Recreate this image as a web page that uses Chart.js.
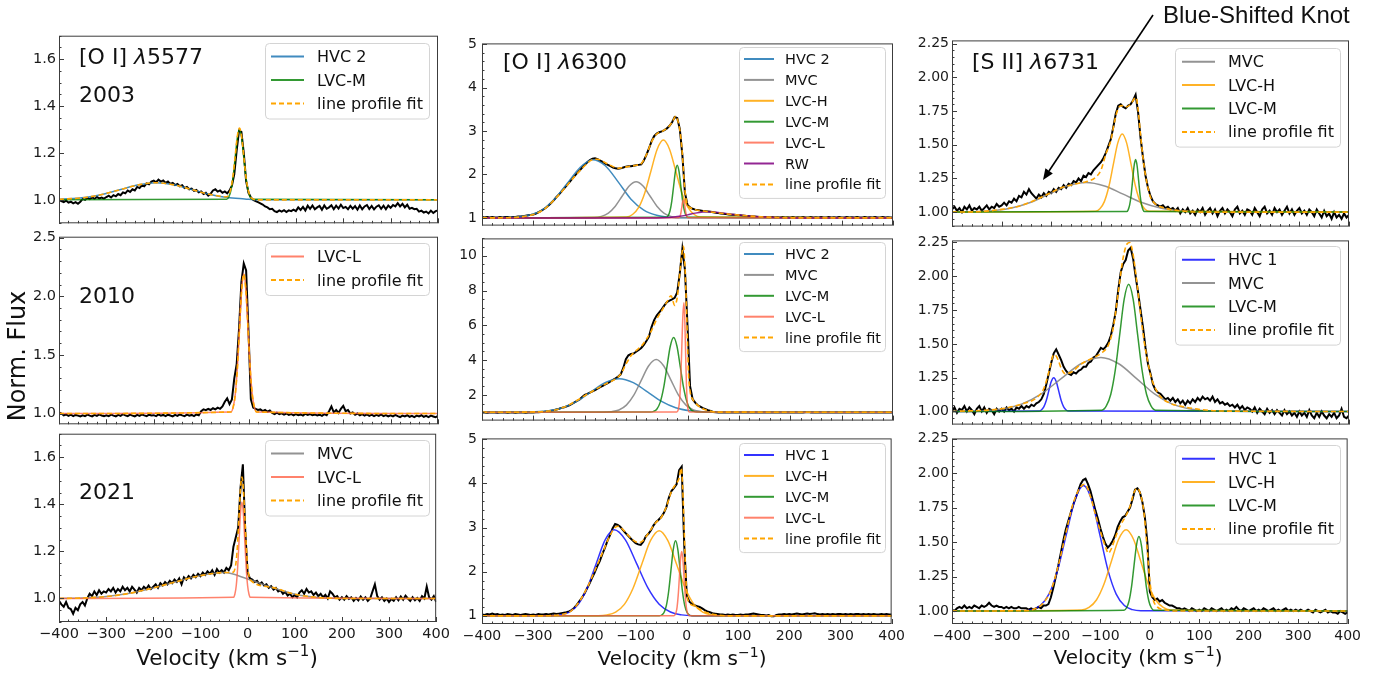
<!DOCTYPE html>
<html>
<head>
<meta charset="utf-8">
<script src="https://cdn.jsdelivr.net/npm/chart.js@4.4.1/dist/chart.umd.min.js"></script>
<style>
  body { margin: 0; background: #fff; }
  #fig { position: relative; width: 1384px; height: 675px; overflow: hidden; background: #fff; }
  #fig canvas { position: absolute; }
  #overlay { position: absolute; left: 0; top: 0; }
</style>
</head>
<body>
<div id="fig"></div>
<script>
// ---------------------------------------------------------------
// Data (velocity in km/s, normalised flux)
// ---------------------------------------------------------------

// sampling grid of the observed spectra (5 km/s)
const velocity = [
  -400,-395,-390,-385,-380,-375,-370,-365,-360,-355,-350,-345,-340,-335,-330,-325,-320,-315,-310,-305,
  -300,-295,-290,-285,-280,-275,-270,-265,-260,-255,-250,-245,-240,-235,-230,-225,-220,-215,-210,-205,
  -200,-195,-190,-185,-180,-175,-170,-165,-160,-155,-150,-145,-140,-135,-130,-125,-120,-115,-110,-105,
  -100,-95,-90,-85,-80,-75,-70,-65,-60,-55,-50,-45,-40,-35,-30,-25,-20,-15,-10,-5,
  0,5,10,15,20,25,30,35,40,45,50,55,60,65,70,75,80,85,90,95,
  100,105,110,115,120,125,130,135,140,145,150,155,160,165,170,175,180,185,190,195,
  200,205,210,215,220,225,230,235,240,245,250,255,260,265,270,275,280,285,290,295,
  300,305,310,315,320,325,330,335,340,345,350,355,360,365,370,375,380,385,390,395,
  400
];

const velocityTicks = [-400, -300, -200, -100, 0, 100, 200, 300, 400];

// [O I] 5577, 2003
const oi5577_2003_obs = [
  1.000,0.995,0.990,0.997,0.988,0.992,0.985,0.990,0.983,0.992,1.004,1.000,1.008,1.003,1.010,1.004,1.012,1.006,1.010,1.005,
  1.012,1.018,1.010,1.020,1.015,1.025,1.020,1.032,1.028,1.040,1.034,1.045,1.040,1.055,1.050,1.062,1.058,1.070,1.066,1.078,
  1.082,1.075,1.086,1.078,1.083,1.072,1.078,1.068,1.072,1.063,1.068,1.058,1.062,1.050,1.055,1.045,1.048,1.038,1.042,1.032,
  1.036,1.025,1.030,1.018,1.026,1.040,1.045,1.035,1.040,1.030,1.036,1.028,1.040,1.060,1.110,1.210,1.295,1.290,1.200,1.080,
  1.030,1.010,1.000,0.995,0.990,0.985,0.980,0.972,0.968,0.960,0.962,0.952,0.948,0.955,0.950,0.956,0.948,0.955,0.952,0.958,
  0.952,0.968,0.957,0.970,0.955,0.975,0.962,0.976,0.960,0.968,0.974,0.958,0.976,0.962,0.968,0.977,0.960,0.975,0.963,0.979,
  0.965,0.970,0.960,0.974,0.962,0.973,0.958,0.976,0.960,0.972,0.978,0.961,0.974,0.959,0.971,0.977,0.962,0.975,0.960,0.976,
  0.966,0.978,0.972,0.986,0.972,0.983,0.968,0.979,0.962,0.966,0.960,0.962,0.950,0.954,0.946,0.950,0.942,0.954,0.944,0.952,
  0.955
];
const oi5577_2003_hvc2 = [[-400,1.002],[-345,1.010],[-307,1.024],[-270,1.044],[-232,1.064],[-195,1.073],[-157,1.064],
  [-120,1.044],[-83,1.024],[-45,1.010],[-8,1.004],[20,1.000],[400,1.000]];
const oi5577_2003_lvcm = [[-400,1.0],[-46,1.003],[-41.5,1.013],[-37,1.041],[-32.5,1.097],[-28,1.182],[-23.5,1.265],[-19,1.300],
  [-14.5,1.265],[-10,1.182],[-5.5,1.097],[-1,1.041],[3.5,1.013],[8,1.003],[400,1.0]];
const oi5577_2003_fit = [[-400,1.002],[-345,1.010],[-307,1.024],[-270,1.044],[-232,1.064],[-195,1.073],[-157,1.064],
  [-120,1.044],[-83,1.024],[-46,1.013],[-41.5,1.023],[-37,1.050],[-32.5,1.105],[-28,1.190],[-23.5,1.272],[-19,1.306],
  [-14.5,1.270],[-10,1.186],[-5.5,1.100],[-1,1.045],[3.5,1.016],[8,1.005],[20,1.0],[400,1.0]];

// [O I] 5577, 2010
const oi5577_2010_obs = [
  1.010,1.000,0.985,0.992,0.980,0.990,0.978,0.988,0.982,0.975,0.985,0.978,0.990,0.982,0.975,0.988,0.980,0.992,0.983,0.978,
  0.985,0.978,0.990,0.982,0.976,0.988,0.980,0.994,0.984,0.978,0.990,0.982,0.976,0.988,0.980,0.992,0.984,0.978,0.990,0.983,
  0.986,0.978,0.992,0.982,0.988,0.978,0.990,0.983,0.976,0.988,0.980,0.992,0.984,0.978,0.990,0.982,0.988,0.978,0.992,0.985,
  1.020,1.035,1.028,1.040,1.030,1.045,1.035,1.050,1.040,1.060,1.100,1.130,1.080,1.120,1.300,1.420,1.720,2.120,2.280,2.220,
  1.700,1.120,1.050,1.040,1.030,1.035,1.020,1.030,1.015,1.025,1.005,0.995,1.008,0.995,1.002,0.990,1.000,0.988,0.996,0.985,
  0.995,0.985,0.992,0.982,0.998,0.988,0.995,0.985,0.992,0.983,0.990,0.980,0.995,0.985,1.020,1.060,1.010,1.030,1.005,1.040,
  1.065,1.020,1.030,1.000,1.010,0.990,1.000,0.985,0.995,0.982,0.992,0.980,0.990,0.978,0.988,0.980,0.992,0.978,0.986,0.975,
  0.985,0.975,0.988,0.978,0.970,0.982,0.975,0.985,0.972,0.980,0.970,0.982,0.975,0.985,0.972,0.980,0.970,0.982,0.975,0.968,
  0.980
];
const oi5577_2010_lvcl = [[-400,1.0],[-37,1.013],[-32.5,1.052],[-28,1.161],[-23.5,1.387],[-19,1.722],[-14.5,2.050],[-10,2.190],
  [-5.5,2.050],[-1,1.722],[3.5,1.387],[8,1.161],[12.5,1.052],[17,1.013],[400,1.0]];
const oi5577_2010_fit = [[-400,1.0],[-37,1.013],[-32.5,1.052],[-28,1.161],[-23.5,1.387],[-19,1.722],[-14.5,2.050],[-10,2.190],
  [-5.5,2.050],[-1,1.722],[3.5,1.387],[8,1.161],[12.5,1.052],[17,1.013],[400,1.0]];

// [O I] 5577, 2021
const oi5577_2021_obs = [
  0.990,0.975,0.965,0.985,0.960,0.955,0.935,0.960,0.950,0.975,0.985,0.970,1.000,1.020,1.010,1.030,1.015,1.035,1.020,1.030,
  1.025,1.040,1.030,1.045,1.025,1.040,1.030,1.050,1.035,1.045,1.030,1.050,1.038,1.025,1.045,1.035,1.050,1.040,1.055,1.040,
  1.050,1.060,1.045,1.065,1.055,1.070,1.060,1.075,1.065,1.080,1.070,1.085,1.060,1.090,1.080,1.095,1.085,1.100,1.090,1.105,
  1.095,1.110,1.100,1.115,1.105,1.120,1.100,1.125,1.110,1.120,1.110,1.130,1.120,1.140,1.220,1.260,1.300,1.470,1.570,1.290,
  1.110,1.085,1.080,1.070,1.075,1.060,1.068,1.055,1.060,1.045,1.052,1.038,1.045,1.030,1.035,1.020,1.028,1.012,1.020,1.005,
  1.015,1.005,1.025,1.035,1.020,1.040,1.025,1.030,1.015,1.025,1.010,1.020,1.005,1.015,1.000,1.030,1.020,1.005,1.010,0.995,
  1.005,0.995,1.010,0.998,1.005,0.990,1.002,0.992,1.008,0.995,1.005,0.990,1.000,1.030,1.060,1.010,0.995,1.005,0.990,1.000,
  0.985,0.998,0.990,1.005,0.992,1.008,0.995,1.012,1.000,0.990,1.005,0.992,1.002,0.990,1.010,1.000,1.050,1.005,0.995,1.010,
  0.985
];
const oi5577_2021_mvc = [[-400,1.0],[-350,1.002],[-300,1.008],[-250,1.022],[-200,1.045],[-150,1.072],[-100,1.097],[-50,1.110],
  [0,1.083],[50,1.048],[100,1.018],[150,1.004],[200,1.0],[400,1.0]];
const oi5577_2021_lvcl = [[-400,1.0],[-30,1.005],[-27,1.018],[-24,1.055],[-21,1.133],[-18,1.249],[-15,1.362],[-12,1.410],
  [-9,1.362],[-6,1.249],[-3,1.133],[0,1.055],[3,1.018],[6,1.005],[400,1.0]];
const oi5577_2021_fit = [[-400,1.0],[-350,1.002],[-300,1.008],[-250,1.022],[-200,1.045],[-150,1.072],[-100,1.097],[-50,1.110],
  [-30,1.112],[-27,1.125],[-24,1.162],[-21,1.240],[-18,1.356],[-15,1.469],[-12,1.516],[-9,1.467],[-6,1.352],[-3,1.234],
  [0,1.138],[3,1.096],[6,1.078],[50,1.048],[100,1.018],[150,1.004],[200,1.0],[400,1.0]];

// [O I] 6300, 2003
const oi6300_2003_obs = [
  1.02,1.01,1.02,1.01,1.02,1.01,1.01,1.02,1.01,1.02,1.02,1.01,1.02,1.02,1.03,1.03,1.04,1.05,1.06,1.07,
  1.08,1.10,1.13,1.16,1.20,1.24,1.29,1.35,1.41,1.48,1.54,1.61,1.68,1.75,1.82,1.89,1.96,2.03,2.09,2.16,
  2.22,2.28,2.33,2.36,2.37,2.35,2.32,2.29,2.25,2.22,2.19,2.16,2.14,2.13,2.14,2.16,2.18,2.19,2.19,2.20,
  2.21,2.22,2.23,2.32,2.45,2.60,2.76,2.88,2.94,2.97,2.99,3.02,3.06,3.12,3.20,3.32,3.30,3.05,2.45,1.58,
  1.30,1.24,1.21,1.19,1.18,1.17,1.16,1.155,1.15,1.14,1.13,1.12,1.11,1.10,1.095,1.09,1.08,1.075,1.07,1.065,
  1.06,1.055,1.05,1.045,1.04,1.035,1.03,1.025,1.02,1.02,1.015,1.02,1.01,1.02,1.01,1.015,1.01,1.02,1.01,1.015,
  1.01,1.02,1.01,1.015,1.01,1.02,1.01,1.01,1.02,1.01,1.015,1.01,1.02,1.01,1.01,1.02,1.01,1.015,1.01,1.02,
  1.01,1.01,1.02,1.01,1.015,1.01,1.02,1.01,1.01,1.02,1.01,1.015,1.01,1.02,1.01,1.01,1.02,1.01,1.015,1.01,
  1.01
];
const oi6300_2003_hvc2 = [[-400,1.0],[-335,1.014],[-310,1.06],[-285,1.17],[-260,1.42],[-235,1.78],[-210,2.15],[-185,2.34],
  [-160,2.20],[-135,1.83],[-110,1.43],[-85,1.18],[-60,1.06],[-35,1.015],[-10,1.003],[400,1.0]];
const oi6300_2003_mvc = [[-400,1.0],[-181,1.009],[-167.5,1.036],[-154,1.112],[-140.5,1.27],[-127,1.503],[-113.5,1.732],[-100,1.83],
  [-86.5,1.732],[-73,1.503],[-59.5,1.27],[-46,1.112],[-32.5,1.036],[-19,1.009],[400,1.0]];
const oi6300_2003_lvch = [[-400,1.0],[-119,1.02],[-107,1.079],[-95,1.242],[-83,1.581],[-71,2.086],[-59,2.58],[-47,2.79],
  [-35,2.58],[-23,2.086],[-11,1.581],[1,1.242],[13,1.079],[25,1.02],[400,1.0]];
const oi6300_2003_lvcm = [[-400,1.0],[-41,1.013],[-37.5,1.053],[-34,1.164],[-30.5,1.393],[-27,1.734],[-23.5,2.068],[-20,2.21],
  [-16.5,2.068],[-13,1.734],[-9.5,1.393],[-6,1.164],[-2.5,1.053],[1,1.013],[400,1.0]];
const oi6300_2003_lvcl = [[-400,1.0],[-17,1.005],[-15.5,1.018],[-14,1.057],[-12.5,1.136],[-11,1.255],[-9.5,1.371],[-8,1.42],
  [-6.5,1.371],[-5,1.255],[-3.5,1.136],[-2,1.057],[-0.5,1.018],[1,1.005],[400,1.0]];
const oi6300_2003_rw = [[-400,1.0],[-60,1.0],[-35,1.01],[-15,1.04],[0,1.07],[15,1.11],[30,1.135],[40,1.14],[55,1.13],
  [70,1.11],[90,1.08],[110,1.055],[130,1.035],[150,1.02],[170,1.008],[200,1.0],[400,1.0]];
const oi6300_2003_fit = [[-400,1.0],[-350,1.005],[-320,1.03],[-300,1.08],[-280,1.19],[-260,1.41],[-240,1.67],[-220,1.95],
  [-200,2.2],[-185,2.34],[-175,2.35],[-160,2.27],[-145,2.18],[-135,2.14],[-125,2.16],[-110,2.19],[-100,2.21],[-90,2.25],
  [-80,2.45],[-70,2.75],[-60,2.93],[-50,2.99],[-40,3.06],[-30,3.2],[-23,3.34],[-18,3.2],[-13,2.85],[-9,2.3],[-6,1.75],
  [-3,1.45],[0,1.3],[5,1.24],[15,1.19],[30,1.16],[50,1.13],[70,1.10],[90,1.075],[110,1.055],[130,1.035],[150,1.02],
  [170,1.008],[200,1.0],[400,1.0]];

// [O I] 6300, 2010
const oi6300_2010_obs = [
  0.98,0.99,0.97,0.98,0.99,0.98,0.97,0.99,0.98,0.98,0.97,0.99,0.98,0.97,0.98,0.99,0.98,0.97,0.99,0.98,
  0.99,1.00,1.00,1.01,1.02,1.04,1.06,1.09,1.12,1.16,1.20,1.25,1.29,1.34,1.40,1.48,1.57,1.65,1.73,1.88,
  2.00,2.06,2.13,2.20,2.28,2.36,2.44,2.52,2.60,2.68,2.77,2.86,2.95,3.05,3.18,3.55,4.05,4.28,4.35,4.38,
  4.48,4.58,4.70,4.88,5.10,5.35,5.90,6.30,6.56,6.75,6.93,7.15,7.34,7.42,7.49,7.58,7.90,9.00,10.40,9.20,
  6.00,2.50,1.75,1.55,1.40,1.32,1.24,1.18,1.12,1.07,1.02,1.00,0.99,1.00,0.99,0.98,0.99,1.00,0.99,0.98,
  0.99,0.98,1.00,0.99,0.98,0.99,1.00,0.99,0.98,0.99,1.00,0.99,0.98,0.99,1.00,0.99,0.98,0.99,1.00,0.99,
  0.98,0.99,1.00,0.99,0.98,0.99,1.00,1.01,0.99,0.98,0.99,1.00,0.99,0.98,0.99,1.00,0.99,0.98,0.99,1.00,
  0.99,0.98,0.99,1.00,0.99,0.98,0.99,1.00,0.99,0.98,0.99,1.00,0.99,0.98,0.99,1.00,0.99,0.98,0.99,0.99,
  0.99
];
const oi6300_2010_hvc2 = [[-400,1.0],[-325.5,1.004],[-298,1.021],[-270.5,1.085],[-243,1.261],[-215.5,1.627],[-188,2.171],
  [-160.5,2.703],[-133,2.93],[-105.5,2.703],[-78,2.171],[-50.5,1.627],[-23,1.261],[4.5,1.085],[32,1.021],[59.5,1.004],[400,1.0]];
const oi6300_2010_mvc = [[-400,1.0],[-162.5,1.007],[-148,1.034],[-133.5,1.133],[-119,1.41],[-104.5,1.984],[-90,2.838],
  [-75.5,3.674],[-61,4.03],[-46.5,3.674],[-32,2.838],[-17.5,1.984],[-3,1.41],[11.5,1.133],[26,1.034],[40.5,1.007],[400,1.0]];
const oi6300_2010_lvcm = [[-400,1.0],[-72.5,1.01],[-66,1.048],[-59.5,1.189],[-53,1.582],[-46.5,2.396],[-40,3.608],
  [-33.5,4.795],[-27,5.3],[-20.5,4.795],[-14,3.608],[-7.5,2.396],[-1,1.582],[5.5,1.189],[12,1.048],[18.5,1.01],[400,1.0]];
const oi6300_2010_lvcl = [[-400,1.0],[-21,1.014],[-19,1.07],[-17,1.277],[-15,1.852],[-13,3.05],[-11,4.82],[-9,6.56],[-7,7.3],
  [-5.5,6.56],[-4,4.82],[-2.5,3.05],[-1,1.852],[0.5,1.277],[2,1.07],[3.5,1.014],[400,1.0]];
const oi6300_2010_fit = [[-400,1.0],[-320,1.005],[-300,1.02],[-280,1.05],[-260,1.12],[-240,1.3],[-220,1.6],[-200,1.95],
  [-180,2.3],[-160,2.62],[-140,2.92],[-130,3.2],[-120,3.75],[-110,4.25],[-100,4.55],[-90,4.8],[-80,5.2],[-70,5.7],
  [-60,6.35],[-50,6.85],[-40,7.35],[-32,7.7],[-25,7.15],[-20,7.6],[-15,9.0],[-10,10.3],[-8,10.55],[-5,9.4],[-2,7.0],
  [0,5.0],[2,3.2],[5,2.2],[10,1.75],[20,1.4],[30,1.2],[40,1.1],[50,1.03],[60,1.01],[400,1.0]];

// [O I] 6300, 2021
const oi6300_2021_obs = [
  1.03,1.02,1.04,1.03,1.05,1.03,1.04,1.02,1.03,1.02,1.04,1.03,1.02,1.04,1.03,1.02,1.03,1.04,1.03,1.02,
  1.03,1.02,1.04,1.03,1.03,1.04,1.03,1.04,1.05,1.04,1.05,1.06,1.07,1.08,1.10,1.13,1.18,1.25,1.33,1.41,
  1.50,1.62,1.73,1.86,1.98,2.12,2.24,2.40,2.54,2.70,2.83,2.98,3.08,3.06,3.02,2.95,2.88,2.82,2.76,2.70,
  2.65,2.62,2.61,2.68,2.80,2.86,2.94,3.05,3.13,3.18,3.24,3.33,3.46,3.68,3.83,3.90,3.98,4.30,4.38,2.60,
  1.45,1.32,1.27,1.24,1.22,1.20,1.17,1.13,1.10,1.08,1.06,1.05,1.04,1.03,1.03,1.02,1.03,1.02,1.03,1.02,
  1.02,1.03,1.02,1.03,1.03,1.04,1.05,1.04,1.03,1.02,1.02,1.01,1.02,0.99,0.99,1.02,1.03,1.03,1.04,1.03,
  1.04,1.03,1.04,1.05,1.04,1.03,1.04,1.05,1.04,1.05,1.06,1.04,1.03,1.04,1.03,1.04,1.03,1.04,1.03,1.04,
  1.04,1.03,1.04,1.03,1.04,1.03,1.04,1.04,1.03,1.04,1.03,1.04,1.03,1.04,1.03,1.03,1.04,1.03,1.04,1.03,
  1.03
];
const oi6300_2021_hvc1 = [[-400,1.0],[-264.5,1.004],[-247,1.022],[-229.5,1.086],[-212,1.264],[-194.5,1.633],[-177,2.183],
  [-159.5,2.721],[-142,2.95],[-120,2.721],[-98,2.183],[-76,1.633],[-54,1.264],[-32,1.086],[-10,1.022],[12,1.004],[400,1.0]];
const oi6300_2021_lvch = [[-400,1.0],[-173,1.004],[-156,1.021],[-139,1.085],[-122,1.261],[-105,1.627],[-88,2.171],[-71,2.703],
  [-54,2.93],[-37,2.703],[-20,2.171],[-3,1.627],[14,1.261],[31,1.085],[48,1.021],[65,1.004],[400,1.0]];
const oi6300_2021_lvcm = [[-400,1.0],[-53.5,1.004],[-49,1.019],[-44.5,1.075],[-40,1.23],[-35.5,1.552],[-31,2.031],[-26.5,2.50],
  [-22,2.70],[-17.5,2.50],[-13,2.031],[-8.5,1.552],[-4,1.23],[0.5,1.075],[5,1.019],[9.5,1.004],[400,1.0]];
const oi6300_2021_lvcl = [[-400,1.0],[-25.75,1.003],[-23.5,1.016],[-21.25,1.064],[-19,1.198],[-16.75,1.474],[-14.5,1.886],
  [-12.25,2.288],[-10,2.46],[-7.75,2.288],[-5.5,1.886],[-3.25,1.474],[-1,1.198],[1.25,1.064],[3.5,1.016],[5.75,1.003],[400,1.0]];
const oi6300_2021_fit = [[-400,1.0],[-280,1.0],[-260,1.01],[-240,1.04],[-225,1.12],[-210,1.32],[-195,1.63],[-180,2.02],
  [-165,2.42],[-150,2.82],[-142,2.98],[-135,3.03],[-125,2.96],[-115,2.83],[-105,2.72],[-95,2.66],[-88,2.68],[-80,2.79],
  [-70,2.96],[-60,3.12],[-50,3.23],[-40,3.47],[-30,3.82],[-22,3.98],[-15,4.12],[-11,4.35],[-8,3.9],[-5,2.9],[-2,1.9],
  [0,1.5],[5,1.3],[15,1.22],[25,1.15],[35,1.09],[45,1.05],[60,1.02],[80,1.0],[400,1.0]];

// [S II] 6731, 2003
const sii6731_2003_obs = [
  1.02,1.04,1.01,1.03,1.00,1.04,1.02,1.05,1.01,1.03,1.02,1.04,1.01,1.03,1.05,1.02,1.04,1.03,1.06,1.04,
  1.05,1.07,1.05,1.08,1.07,1.10,1.08,1.12,1.11,1.15,1.13,1.17,1.14,1.12,1.10,1.13,1.11,1.14,1.12,1.15,
  1.14,1.17,1.15,1.18,1.17,1.20,1.18,1.21,1.20,1.23,1.22,1.25,1.23,1.27,1.26,1.29,1.28,1.31,1.33,1.35,
  1.37,1.40,1.44,1.49,1.54,1.63,1.73,1.79,1.80,1.78,1.77,1.79,1.80,1.83,1.87,1.74,1.55,1.40,1.27,1.18,
  1.12,1.08,1.06,1.05,1.04,1.05,1.03,1.04,1.02,1.03,1.01,1.03,0.99,1.02,1.00,1.03,0.99,1.01,0.98,1.02,
  1.00,1.03,0.98,1.01,1.03,0.99,1.02,0.97,1.01,1.03,0.99,1.02,1.00,0.97,1.02,1.04,0.99,1.01,0.98,1.02,
  1.01,0.98,1.03,1.00,0.97,1.02,1.04,0.99,1.01,0.98,1.03,1.00,1.02,0.98,1.01,1.04,0.99,1.02,0.98,1.01,
  1.03,0.99,1.01,0.98,1.02,1.00,0.97,1.02,0.99,0.96,1.01,0.97,0.99,0.95,1.00,0.96,0.98,0.95,0.99,0.96,
  0.98
];
const sii6731_2003_mvc = [[-400,1.0],[-355,1.002],[-317.5,1.010],[-280,1.030],[-242.5,1.071],[-205,1.133],[-167.5,1.194],
  [-130,1.22],[-92.5,1.194],[-55,1.133],[-17.5,1.071],[20,1.030],[57.5,1.010],[95,1.002],[400,1.0]];
const sii6731_2003_lvch = [[-400,1.0],[-111,1.006],[-102,1.025],[-93,1.078],[-84,1.188],[-75,1.352],[-66,1.512],[-57,1.58],
  [-48,1.512],[-39,1.352],[-30,1.188],[-21,1.078],[-12,1.025],[-3,1.006],[400,1.0]];
const sii6731_2003_lvcm = [[-400,1.0],[-48,1.004],[-45,1.017],[-42,1.053],[-39,1.127],[-36,1.237],[-33,1.344],[-30,1.39],
  [-27,1.344],[-24,1.237],[-21,1.127],[-18,1.053],[-15,1.017],[-12,1.004],[400,1.0]];
const sii6731_2003_fit = [[-400,1.0],[-350,1.003],[-300,1.02],[-260,1.05],[-220,1.11],[-180,1.18],[-150,1.21],[-130,1.225],
  [-110,1.26],[-100,1.31],[-90,1.43],[-80,1.53],[-72,1.68],[-65,1.77],[-58,1.79],[-50,1.78],[-40,1.80],[-33,1.84],
  [-29,1.85],[-25,1.76],[-20,1.57],[-15,1.40],[-10,1.27],[-5,1.18],[0,1.11],[10,1.06],[20,1.04],[40,1.02],[60,1.01],
  [100,1.0],[400,1.0]];

// [S II] 6731, 2010
const sii6731_2010_obs = [
  1.00,1.03,0.99,1.02,1.01,1.04,1.00,1.03,1.01,0.98,1.02,1.04,1.00,1.03,0.99,1.02,1.01,0.98,1.02,1.00,
  1.02,1.00,1.03,1.01,1.02,1.00,1.03,1.02,1.04,1.02,1.04,1.03,1.05,1.04,1.06,1.07,1.09,1.13,1.20,1.28,
  1.36,1.43,1.46,1.42,1.38,1.33,1.30,1.28,1.27,1.29,1.28,1.30,1.31,1.33,1.33,1.36,1.37,1.40,1.41,1.44,
  1.47,1.46,1.48,1.51,1.56,1.64,1.74,1.90,2.03,2.09,2.12,2.19,2.21,2.13,2.00,1.88,1.75,1.62,1.47,1.35,
  1.28,1.20,1.16,1.14,1.13,1.11,1.09,1.10,1.08,1.10,1.07,1.09,1.06,1.08,1.05,1.08,1.06,1.09,1.07,1.10,
  1.08,1.11,1.09,1.10,1.08,1.11,1.07,1.09,1.06,1.07,1.05,1.06,1.04,1.05,1.03,1.05,1.02,1.04,1.01,1.03,
  1.02,1.00,1.03,0.99,1.02,1.00,0.98,1.02,0.99,1.01,0.98,1.01,0.99,0.97,1.01,0.98,1.00,0.97,0.99,0.96,
  1.00,0.97,0.99,0.96,1.01,0.97,0.95,0.99,0.96,1.00,0.97,0.95,0.98,0.96,0.99,0.95,0.97,1.02,0.96,0.95,
  0.97
];
const sii6731_2010_hvc1 = [[-400,1.0],[-225,1.003],[-220,1.011],[-215,1.034],[-210,1.081],[-205,1.152],[-200,1.221],[-195,1.25],
  [-190,1.221],[-185,1.152],[-180,1.081],[-175,1.034],[-170,1.011],[-165,1.003],[400,1.0]];
const sii6731_2010_mvc = [[-400,1.0],[-340,1.004],[-300,1.018],[-260,1.054],[-220,1.130],[-180,1.243],[-140,1.353],[-100,1.40],
  [-64,1.353],[-28,1.243],[8,1.130],[44,1.054],[80,1.018],[116,1.004],[400,1.0]];
const sii6731_2010_lvcm = [[-400,1.0],[-98,1.01],[-89,1.041],[-80,1.127],[-71,1.305],[-62,1.570],[-53,1.830],[-44,1.94],
  [-35,1.830],[-26,1.570],[-17,1.305],[-8,1.127],[1,1.041],[10,1.01],[400,1.0]];
const sii6731_2010_fit = [[-400,1.0],[-300,1.02],[-260,1.055],[-230,1.10],[-215,1.17],[-205,1.29],[-200,1.37],[-195,1.42],
  [-190,1.41],[-185,1.37],[-180,1.32],[-172,1.28],[-160,1.29],[-140,1.35],[-120,1.39],[-100,1.43],[-85,1.49],[-75,1.62],
  [-65,1.88],[-55,2.14],[-47,2.24],[-42,2.25],[-36,2.18],[-28,1.97],[-20,1.72],[-12,1.5],[-5,1.36],[0,1.27],[10,1.17],
  [20,1.11],[40,1.06],[60,1.04],[100,1.015],[150,1.003],[400,1.0]];

// [S II] 6731, 2021
const sii6731_2021_obs = [
  1.01,1.00,1.02,1.03,1.02,1.04,1.02,1.03,1.02,1.04,1.03,1.02,1.04,1.03,1.04,1.06,1.04,1.03,1.04,1.03,
  1.03,1.02,1.03,1.02,1.03,1.02,1.02,1.03,1.02,1.02,1.02,1.01,1.02,1.01,1.02,1.03,1.02,1.04,1.04,1.05,
  1.10,1.17,1.25,1.33,1.42,1.51,1.59,1.65,1.71,1.77,1.82,1.87,1.92,1.95,1.96,1.92,1.87,1.80,1.73,1.67,
  1.60,1.54,1.49,1.46,1.48,1.51,1.55,1.61,1.65,1.68,1.69,1.72,1.75,1.81,1.88,1.89,1.86,1.79,1.68,1.50,
  1.14,1.10,1.08,1.09,1.07,1.08,1.06,1.05,1.04,1.04,1.03,1.02,1.02,1.01,1.02,1.01,1.00,1.02,1.01,1.00,
  1.01,1.00,1.02,1.01,1.00,1.02,1.01,1.00,1.01,1.02,1.00,1.01,1.00,1.02,1.01,1.03,1.01,1.00,1.02,1.01,
  1.00,1.01,1.02,1.00,1.01,1.00,1.02,1.01,1.00,1.01,1.02,1.00,1.01,1.00,1.01,1.02,1.00,1.01,1.00,1.01,
  1.00,1.01,1.00,1.00,1.01,1.00,0.99,1.01,1.00,0.99,1.00,1.01,0.99,1.00,0.99,0.99,0.98,1.00,0.99,0.98,
  0.99
];
const sii6731_2021_hvc1 = [[-400,1.0],[-256.5,1.002],[-239,1.010],[-221.5,1.040],[-204,1.123],[-186.5,1.295],[-169,1.552],
  [-151.5,1.803],[-134,1.91],[-117.5,1.803],[-101,1.552],[-84.5,1.295],[-68,1.123],[-51.5,1.040],[-35,1.010],[-18.5,1.002],[400,1.0]];
const sii6731_2021_lvch = [[-400,1.0],[-138,1.007],[-123,1.026],[-108,1.080],[-93,1.192],[-78,1.358],[-63,1.521],[-48,1.59],
  [-33,1.521],[-18,1.358],[-3,1.192],[12,1.080],[27,1.026],[42,1.007],[400,1.0]];
const sii6731_2021_lvcm = [[-400,1.0],[-52,1.006],[-47,1.024],[-42,1.073],[-37,1.175],[-32,1.328],[-27,1.477],[-22,1.54],
  [-17,1.477],[-12,1.328],[-7,1.175],[-2,1.073],[3,1.024],[8,1.006],[400,1.0]];
const sii6731_2021_fit = [[-400,1.0],[-250,1.003],[-230,1.02],[-215,1.06],[-200,1.15],[-185,1.33],[-170,1.56],[-155,1.78],
  [-140,1.90],[-132,1.92],[-120,1.83],[-110,1.70],[-100,1.58],[-90,1.47],[-84,1.42],[-78,1.45],[-70,1.53],[-60,1.62],
  [-50,1.68],[-40,1.76],[-32,1.86],[-26,1.89],[-20,1.86],[-12,1.72],[-6,1.48],[0,1.22],[6,1.09],[15,1.03],[30,1.01],
  [50,1.0],[400,1.0]];

// y tick labels
const yTicksSmall = [1.0, 1.2, 1.4, 1.6];
const yTicksMid = [1.0, 1.5, 2.0, 2.5];
const yTicks6300 = [1, 2, 3, 4, 5];
const yTicks6300b = [2, 4, 6, 8, 10];
const yTicks6731 = [1.00, 1.25, 1.50, 1.75, 2.00, 2.25];

// ---------------------------------------------------------------
// Styles and layout
// ---------------------------------------------------------------
const COLORS = {
  'HVC 1': 'rgba(0,0,255,0.8)',
  'HVC 2': 'rgba(31,119,180,0.85)',
  'MVC': 'rgba(128,128,128,0.85)',
  'LVC-H': 'rgba(255,165,0,0.85)',
  'LVC-M': 'rgba(0,128,0,0.8)',
  'LVC-L': 'rgba(255,99,71,0.8)',
  'RW': 'rgba(128,0,128,0.85)',
  fit: '#FFA500'
};

const LEGEND_COLS = [
  { x: 265, w: 164, lineX: 271, lineLen: 33, textX: 317, rowH: 23.5, first: 13.5, last: 15, font: 16 },
  { x: 739, w: 146, lineX: 744, lineLen: 30, textX: 785, rowH: 20.9, first: 12, last: 13.5, font: 14.5 },
  { x: 1175, w: 165, lineX: 1182, lineLen: 33, textX: 1228, rowH: 23.4, first: 13.7, last: 14.7, font: 16 }
];

const PANELS = [
  { obs: oi5577_2003_obs, comps: [['HVC 2', oi5577_2003_hvc2], ['LVC-M', oi5577_2003_lvcm]], fit: oi5577_2003_fit,
    yMin: 0.9, yMax: 1.7, yTicks: yTicksSmall, yMinor: 0.05, dec: 1,
    rect: [59, 34, 438, 225], col: 0, legendTop: 43, showX: false },
  { obs: oi5577_2010_obs, comps: [['LVC-L', oi5577_2010_lvcl]], fit: oi5577_2010_fit,
    yMin: 0.908, yMax: 2.508, yTicks: yTicksMid, yMinor: 0.1, dec: 1,
    rect: [59, 235, 438, 426], col: 0, legendTop: 243, showX: false },
  { obs: oi5577_2021_obs, comps: [['MVC', oi5577_2021_mvc], ['LVC-L', oi5577_2021_lvcl]], fit: oi5577_2021_fit,
    yMin: 0.9, yMax: 1.7, yTicks: yTicksSmall, yMinor: 0.05, dec: 1,
    rect: [59, 432, 438, 622], col: 0, legendTop: 440, showX: true },
  { obs: oi6300_2003_obs,
    comps: [['HVC 2', oi6300_2003_hvc2], ['MVC', oi6300_2003_mvc], ['LVC-H', oi6300_2003_lvch],
            ['LVC-M', oi6300_2003_lvcm], ['LVC-L', oi6300_2003_lvcl], ['RW', oi6300_2003_rw]],
    fit: oi6300_2003_fit,
    yMin: 0.823, yMax: 5.015, yTicks: yTicks6300, yMinor: 0.2, dec: 0,
    rect: [482, 40, 893, 229], col: 1, legendTop: 47, showX: false },
  { obs: oi6300_2010_obs,
    comps: [['HVC 2', oi6300_2010_hvc2], ['MVC', oi6300_2010_mvc], ['LVC-M', oi6300_2010_lvcm], ['LVC-L', oi6300_2010_lvcl]],
    fit: oi6300_2010_fit,
    yMin: 0.52, yMax: 11.0, yTicks: yTicks6300b, yMinor: 0.5, dec: 0,
    rect: [482, 235, 893, 424], col: 1, legendTop: 242, showX: false },
  { obs: oi6300_2021_obs,
    comps: [['HVC 1', oi6300_2021_hvc1], ['LVC-H', oi6300_2021_lvch], ['LVC-M', oi6300_2021_lvcm], ['LVC-L', oi6300_2021_lvcl]],
    fit: oi6300_2021_fit,
    yMin: 0.815, yMax: 5.022, yTicks: yTicks6300, yMinor: 0.2, dec: 0,
    rect: [482, 435, 893, 624], col: 1, legendTop: 443, showX: true },
  { obs: sii6731_2003_obs, comps: [['MVC', sii6731_2003_mvc], ['LVC-H', sii6731_2003_lvch], ['LVC-M', sii6731_2003_lvcm]],
    fit: sii6731_2003_fit,
    yMin: 0.8925, yMax: 2.274, yTicks: yTicks6731, yMinor: 0.05, dec: 2,
    rect: [952, 39, 1349, 228], col: 2, legendTop: 48, showX: false },
  { obs: sii6731_2010_obs, comps: [['HVC 1', sii6731_2010_hvc1], ['MVC', sii6731_2010_mvc], ['LVC-M', sii6731_2010_lvcm]],
    fit: sii6731_2010_fit,
    yMin: 0.903, yMax: 2.265, yTicks: yTicks6731, yMinor: 0.05, dec: 2,
    rect: [952, 239, 1349, 426], col: 2, legendTop: 246, showX: false },
  { obs: sii6731_2021_obs, comps: [['HVC 1', sii6731_2021_hvc1], ['LVC-H', sii6731_2021_lvch], ['LVC-M', sii6731_2021_lvcm]],
    fit: sii6731_2021_fit,
    yMin: 0.906, yMax: 2.252, yTicks: yTicks6731, yMinor: 0.05, dec: 2,
    rect: [952, 437, 1349, 624], col: 2, legendTop: 445, showX: true }
];

const TICK_FONT = [14.5, 14, 14];
const FRAME = '#3c3c3c';

Chart.defaults.font.family = "'DejaVu Sans', sans-serif";
Chart.defaults.color = '#1a1a1a';

/**
 * Frame and inward major/minor ticks, matplotlib style
 */
const frameTicks = {
  id: 'frameTicks',
  afterDatasetsDraw(chart, args, opts) {
    const { ctx, chartArea: a, scales: { x, y } } = chart;
    ctx.save();
    ctx.strokeStyle = FRAME;
    ctx.lineWidth = 1;
    ctx.beginPath();
    const xMajor = velocityTicks;
    for (let v = -400; v <= 400; v += 20) {
      const len = xMajor.includes(v) ? 5 : 2.5;
      const px = Math.round(x.getPixelForValue(v)) + 0.5;
      ctx.moveTo(px, a.bottom);
      ctx.lineTo(px, a.bottom - len);
    }
    const step = opts.minor;
    const start = Math.ceil(opts.min / step - 1e-6);
    for (let k = start; k * step <= opts.max + 1e-9; k++) {
      const v = k * step;
      const isMajor = opts.major.some(m => Math.abs(m - v) < step / 10);
      const py = Math.round(y.getPixelForValue(v)) + 0.5;
      ctx.moveTo(a.left, py);
      ctx.lineTo(a.left + (isMajor ? 5 : 2.5), py);
    }
    ctx.stroke();
    ctx.strokeRect(a.left + 0.5, a.top + 0.5, a.right - a.left - 1, a.bottom - a.top - 1);
    ctx.restore();
  }
};

const fmtVel = v => (v < 0 ? '\u2212' + Math.abs(v) : String(v));

function buildChart(p, fig) {
  const [x0, y0, x1, y1] = p.rect;
  const padTop = 10, padRight = 16;
  const padBottom = p.showX ? 0 : 10;
  const axisW = 50, axisH = p.showX ? 28 : 0;
  const w = (x1 - x0) + axisW + padRight;
  const h = (y1 - y0) + padTop + padBottom + axisH;

  const canvas = document.createElement('canvas');
  canvas.width = w;
  canvas.height = h;
  canvas.style.left = (x0 - axisW) + 'px';
  canvas.style.top = (y0 - padTop) + 'px';
  canvas.style.width = w + 'px';
  canvas.style.height = h + 'px';
  fig.appendChild(canvas);

  const datasets = [];
  datasets.push({
    label: 'observed',
    data: velocity.map((v, i) => ({ x: v, y: p.obs[i] })),
    borderColor: '#000',
    borderWidth: 2,
    tension: 0
  });
  p.comps.forEach(([label, pts]) => {
    datasets.push({
      label,
      data: pts.map(([vx, vy]) => ({ x: vx, y: vy })),
      borderColor: COLORS[label],
      borderWidth: 1.5,
      cubicInterpolationMode: 'monotone'
    });
  });
  datasets.push({
    label: 'line profile fit',
    data: p.fit.map(([vx, vy]) => ({ x: vx, y: vy })),
    borderColor: COLORS.fit,
    borderWidth: 1.6,
    borderDash: [5, 3],
    cubicInterpolationMode: 'monotone'
  });
  datasets.forEach((d, i) => {
    d.order = datasets.length - i;
    d.pointRadius = 0;
    d.fill = false;
  });

  const fontSize = TICK_FONT[p.col];
  return new Chart(canvas.getContext('2d'), {
    type: 'line',
    data: { datasets },
    plugins: [frameTicks],
    options: {
      responsive: false,
      animation: false,
      devicePixelRatio: 1,
      events: [],
      layout: { padding: { left: 0, top: padTop, right: padRight, bottom: padBottom } },
      plugins: {
        legend: { display: false },
        tooltip: { enabled: false },
        frameTicks: { min: p.yMin, max: p.yMax, major: p.yTicks, minor: p.yMinor }
      },
      scales: {
        x: {
          type: 'linear',
          min: -400,
          max: 400,
          grid: { display: false, drawTicks: false },
          border: { display: false },
          afterBuildTicks: s => { s.ticks = velocityTicks.map(v => ({ value: v })); },
          afterFit: s => { s.height = axisH; },
          ticks: {
            display: p.showX,
            autoSkip: false,
            maxRotation: 0,
            padding: 4,
            font: { size: fontSize },
            callback: fmtVel
          }
        },
        y: {
          type: 'linear',
          min: p.yMin,
          max: p.yMax,
          grid: { display: false, drawTicks: false },
          border: { display: false },
          afterBuildTicks: s => { s.ticks = p.yTicks.map(v => ({ value: v })); },
          afterFit: s => { s.width = axisW; },
          ticks: {
            autoSkip: false,
            padding: p.col === 1 ? 5 : 3,
            font: { size: fontSize },
            callback: v => Number(v).toFixed(p.dec)
          }
        }
      }
    }
  });
}

/**
 * Legend box for one panel, in the overlay svg
 */
function legendSvg(p) {
  const g = LEGEND_COLS[p.col];
  const items = p.comps.map(([label]) => ({ label, color: COLORS[label], dash: false }))
    .concat([{ label: 'line profile fit', color: COLORS.fit, dash: true }]);
  const top = p.legendTop;
  const bottom = top + g.first + (items.length - 1) * g.rowH + g.last;
  let s = `<rect x="${g.x + 0.5}" y="${top + 0.5}" width="${g.w}" height="${bottom - top}" rx="4"
    fill="#fff" fill-opacity="0.85" stroke="#d4d4d4" stroke-width="1"/>`;
  items.forEach((it, i) => {
    const cy = top + g.first + i * g.rowH;
    s += `<line x1="${g.lineX}" y1="${cy}" x2="${g.lineX + g.lineLen}" y2="${cy}" stroke="${it.color}"
      stroke-width="2" ${it.dash ? 'stroke-dasharray="5 3"' : ''}/>`;
    s += `<text x="${g.textX}" y="${cy}" font-size="${g.font}" dominant-baseline="central">${it.label}</text>`;
  });
  return s;
}

function buildOverlay(fig) {
  const sup = '<tspan baseline-shift="super" font-size="70%">\u22121</tspan>';
  let s = `<svg id="overlay" width="1384" height="675" xmlns="http://www.w3.org/2000/svg"
    font-family="DejaVu Sans, sans-serif" fill="#111">`;
  PANELS.forEach(p => { s += legendSvg(p); });

  // panel annotations
  s += `<text x="79" y="64" font-size="22">[O I] <tspan font-style="italic">\u03bb</tspan>5577</text>`;
  s += `<text x="79" y="101.5" font-size="22">2003</text>`;
  s += `<text x="79" y="303" font-size="22">2010</text>`;
  s += `<text x="79" y="499" font-size="22">2021</text>`;
  s += `<text x="503" y="69" font-size="22">[O I] <tspan font-style="italic">\u03bb</tspan>6300</text>`;
  s += `<text x="972" y="69" font-size="22">[S II] <tspan font-style="italic">\u03bb</tspan>6731</text>`;

  // axis titles
  s += `<text x="227" y="665" font-size="21.5" text-anchor="middle">Velocity (km s${sup})</text>`;
  s += `<text x="682" y="665" font-size="20" text-anchor="middle">Velocity (km s${sup})</text>`;
  s += `<text x="1138" y="664" font-size="20" text-anchor="middle">Velocity (km s${sup})</text>`;
  s += `<text transform="translate(25,356) rotate(-90)" font-size="24" text-anchor="middle">Norm. Flux</text>`;

  // blue-shifted knot callout
  s += `<text x="1163" y="23" font-size="24" font-family="Liberation Sans, Arial, sans-serif">Blue-Shifted Knot</text>`;
  s += `<line x1="1153" y1="15" x2="1049" y2="171" stroke="#000" stroke-width="1.6"/>`;
  s += `<polygon points="1043,180 1052.8,173.4 1045.4,168.3" fill="#000"/>`;
  s += '</svg>';
  fig.insertAdjacentHTML('beforeend', s);
}

const fig = document.getElementById('fig');
PANELS.forEach(p => buildChart(p, fig));
buildOverlay(fig);
</script>
</body>
</html>
